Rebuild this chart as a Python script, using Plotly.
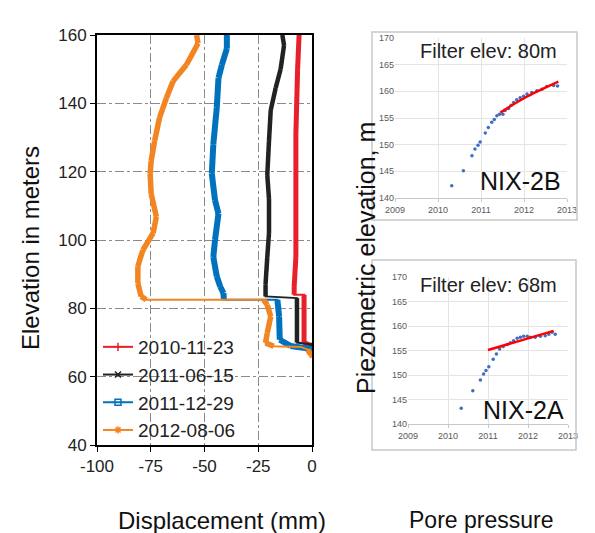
import plotly.graph_objects as go

W, H = 595, 533

# inclinometer profiles: displacement (mm) vs elevation (m)
dates = ['2010-11-23', '2011-06-15', '2011-12-29', '2012-08-06']

red_disp = [-6, -6.7, -7.5, -7.5, -7.5, -8.3, -8.3, -3.7, -3.7, 0]
red_elev = [160, 150, 131, 112, 95, 86.3, 84, 84, 70, 69]

black_disp = [-13.8, -13, -14.6, -16.9, -19.2, -20, -20.8, -20, -20, -20.8, -21.6, -21.6, -7, -7, -1, 0]
black_elev = [160, 157, 150, 144.5, 138, 129, 119, 112, 102, 95, 87, 83.5, 83, 70, 69.5, 69]

blue_disp = [-39.6, -39.6, -41.9, -43.5, -44.3, -45.9, -46.6, -45.1, -43.5, -45.1, -45.9, -44.3,
             -42.7, -41.2, -41, -16.1, -15.3, -15, -10, 1]
blue_elev = [160, 156, 151.3, 147.4, 138.7, 128, 119.4, 111.6, 107.7, 100, 95, 89.3,
             86.4, 84.5, 82.5, 82.5, 77.6, 70.8, 69, 68]

orange_disp = [-53.7, -53, -58.4, -64.6, -67.7, -70.9, -73.2, -74.8, -75.3, -74.8, -72.4, -73.9,
               -78.7, -81, -81, -79.5, -77.1, -22.5, -20.8, -19.2, -20.8, -21.6, -17.8, -5.2,
               -2, -0.5, 0.3]
orange_elev = [160, 157.6, 151.3, 146.5, 141.6, 135.8, 129, 123.2, 119.4, 113.5, 106.8, 102,
               97, 92.3, 87.4, 83.5, 82.5, 82.5, 81, 77.6, 72.8, 69.9, 68.9, 68.7,
               67.9, 66.4, 65.9]

# piezometer NIX-2B (filter 80 m)
b_year = [2010.32, 2010.59, 2010.79, 2010.86, 2010.93, 2010.98, 2011.10, 2011.17, 2011.25,
          2011.31, 2011.37, 2011.43, 2011.51, 2011.56, 2011.64, 2011.70, 2011.76, 2011.83,
          2011.91, 2011.99, 2012.07, 2012.18, 2012.30, 2012.42, 2012.53, 2012.69, 2012.78]
b_head = [142.3, 145.1, 147.9, 149.2, 149.9, 150.5, 152.2, 153.2, 154.2, 154.7, 155.4, 155.7,
          155.7, 156.4, 156.8, 157.4, 157.9, 158.4, 158.8, 159.1, 159.5, 159.8, 160.1, 160.4,
          160.9, 161.1, 161.0]
b_trend_year = [2011.45, 2012.0, 2012.8]
b_trend_head = [156.0, 158.7, 161.8]

# piezometer NIX-2A (filter 68 m)
a_year = [2010.33, 2010.62, 2010.81, 2010.89, 2010.95, 2011.02, 2011.13, 2011.21, 2011.29,
          2011.38, 2011.48, 2011.56, 2011.64, 2011.73, 2011.81, 2011.89, 2011.98, 2012.06,
          2012.18, 2012.31, 2012.43, 2012.52, 2012.60, 2012.68]
a_head = [143.2, 146.8, 149.0, 150.2, 150.9, 151.7, 153.2, 154.3, 155.3, 155.8, 156.2, 156.6,
          157.0, 157.5, 157.7, 157.9, 157.9, 157.7, 157.7, 157.9, 158.0, 158.3, 158.7, 158.3]
a_trend_year = [2011.0, 2012.64]
a_trend_head = [155.1, 159.0]


def px_x(p):
    return p / W


def px_y(p):
    return 1 - p / H


def steep_parts(d, e):
    # keep only the segments that follow the borehole (dense markers -> thick band)
    xs, ys = [], []
    for i in range(len(d) - 1):
        if abs(e[i + 1] - e[i]) >= 0.8 or abs(d[i + 1] - d[i]) < 3:
            xs += [d[i], d[i + 1], None]
            ys += [e[i], e[i + 1], None]
    return xs, ys


fig = go.Figure()

colors = ['#e8202a', '#222222', '#0072bd', '#f28522']
widths = [5, 4.5, 6, 5.5]
symbols = ['cross-thin-open', 'x-thin-open', 'square-open', 'asterisk-open']
series = [(red_disp, red_elev), (black_disp, black_elev), (blue_disp, blue_elev), (orange_disp, orange_elev)]

for (d, e), c, w in zip(series, colors, widths):
    fig.add_trace(go.Scatter(x=d, y=e, mode='lines', line=dict(color=c, width=2),
                             showlegend=False, xaxis='x', yaxis='y'))
    sx, sy = steep_parts(d, e)
    fig.add_trace(go.Scatter(x=sx, y=sy, mode='lines', line=dict(color=c, width=w),
                             showlegend=False, xaxis='x', yaxis='y'))

# legend entries
for name, c, s in zip(dates, colors, symbols):
    fig.add_trace(go.Scatter(x=[None], y=[None], mode='lines+markers', name=name,
                             line=dict(color=c, width=2),
                             marker=dict(symbol=s, size=6, color=c, line=dict(color=c, width=1.5)),
                             xaxis='x', yaxis='y'))

# piezometers
fig.add_trace(go.Scatter(x=b_year, y=b_head, mode='markers', marker=dict(color='#3d6fc0', size=3.5),
                         showlegend=False, xaxis='x2', yaxis='y2'))
fig.add_trace(go.Scatter(x=b_trend_year, y=b_trend_head, mode='lines',
                         line=dict(color='#ff0000', width=2.5, shape='spline'),
                         showlegend=False, xaxis='x2', yaxis='y2'))
fig.add_trace(go.Scatter(x=a_year, y=a_head, mode='markers', marker=dict(color='#3d6fc0', size=3.5),
                         showlegend=False, xaxis='x3', yaxis='y3'))
fig.add_trace(go.Scatter(x=a_trend_year, y=a_trend_head, mode='lines', line=dict(color='#ff0000', width=2.5),
                         showlegend=False, xaxis='x3', yaxis='y3'))

grid_left = dict(showgrid=True, gridcolor='#8a8a8a', gridwidth=1.2, griddash='dashdot',
                 showline=True, linecolor='black', linewidth=2, mirror=True,
                 ticks='outside', ticklen=5, tickcolor='black',
                 tickfont=dict(family='Liberation Sans, Arial', size=17, color='#222'),
                 zeroline=False, automargin=False)

small = dict(showgrid=True, gridcolor='#e4e4e4', gridwidth=1, zeroline=False, automargin=False,
             tickfont=dict(family='Liberation Sans, Arial', size=9, color='#595959'))

x_ticks = [-100, -75, -50, -25, 0]

fig.update_layout(
    width=W, height=H,
    margin=dict(l=0, r=0, t=0, b=0, autoexpand=False),
    paper_bgcolor='white', plot_bgcolor='white',
    font=dict(family='Liberation Sans, Arial'),
    xaxis=dict(domain=[px_x(97), px_x(312)], range=[-100, 0], tickvals=x_ticks,
               ticktext=[str(v) for v in x_ticks], **grid_left),
    yaxis=dict(domain=[px_y(445), px_y(35)], range=[40, 160], tickvals=[40, 60, 80, 100, 120, 140, 160], **grid_left),
    xaxis2=dict(domain=[px_x(395), px_x(567)], range=[2009, 2013], dtick=1, anchor='y2',
                showline=True, linecolor='#c8c8c8', ticks='outside', ticklen=3, tickcolor='#c8c8c8', **small),
    yaxis2=dict(domain=[px_y(198), px_y(38)], range=[140, 170], dtick=5, anchor='x2', **small),
    xaxis3=dict(domain=[px_x(408), px_x(568)], range=[2009, 2013], dtick=1, anchor='y3',
                showline=True, linecolor='#c8c8c8', ticks='outside', ticklen=3, tickcolor='#c8c8c8', **small),
    yaxis3=dict(domain=[px_y(424), px_y(277)], range=[140, 170], dtick=5, anchor='x3', **small),
    legend=dict(x=px_x(98), y=px_y(328), xanchor='left', yanchor='top', bgcolor='rgba(0,0,0,0)',
                font=dict(size=19, color='#222'), itemwidth=30, tracegroupgap=0),
    shapes=[
        dict(type='rect', xref='paper', yref='paper', x0=px_x(372), x1=px_x(577), y0=px_y(220), y1=px_y(32),
             line=dict(color='#c8c8c8', width=1.5)),
        dict(type='rect', xref='paper', yref='paper', x0=px_x(372), x1=px_x(576), y0=px_y(450), y1=px_y(260),
             line=dict(color='#c8c8c8', width=1.5)),
    ],
)

ann = [
    dict(text='Elevation in meters', x=px_x(30), y=px_y(248), textangle=-90, font=dict(size=24, color='#111')),
    dict(text='Displacement (mm)', x=px_x(222), y=px_y(520), font=dict(size=24, color='#111')),
    dict(text='Piezometric elevation, m', x=px_x(366), y=px_y(258), textangle=-90, font=dict(size=25, color='#111')),
    dict(text='Pore pressure', x=px_x(481), y=px_y(520), font=dict(size=23, color='#111')),
    dict(text='Filter elev: 80m', x=px_x(488), y=px_y(51), font=dict(size=20, color='#222')),
    dict(text='NIX-2B', x=px_x(520), y=px_y(181), font=dict(size=25, color='#111')),
    dict(text='Filter elev: 68m', x=px_x(488), y=px_y(285), font=dict(size=20, color='#222')),
    dict(text='NIX-2A', x=px_x(523), y=px_y(410), font=dict(size=25, color='#111')),
]
for a in ann:
    fig.add_annotation(xref='paper', yref='paper', showarrow=False, xanchor='center', yanchor='middle', **a)

fig.write_html("out.html", config={'displayModeBar': False},
               post_script="document.body.style.margin='0px';")
